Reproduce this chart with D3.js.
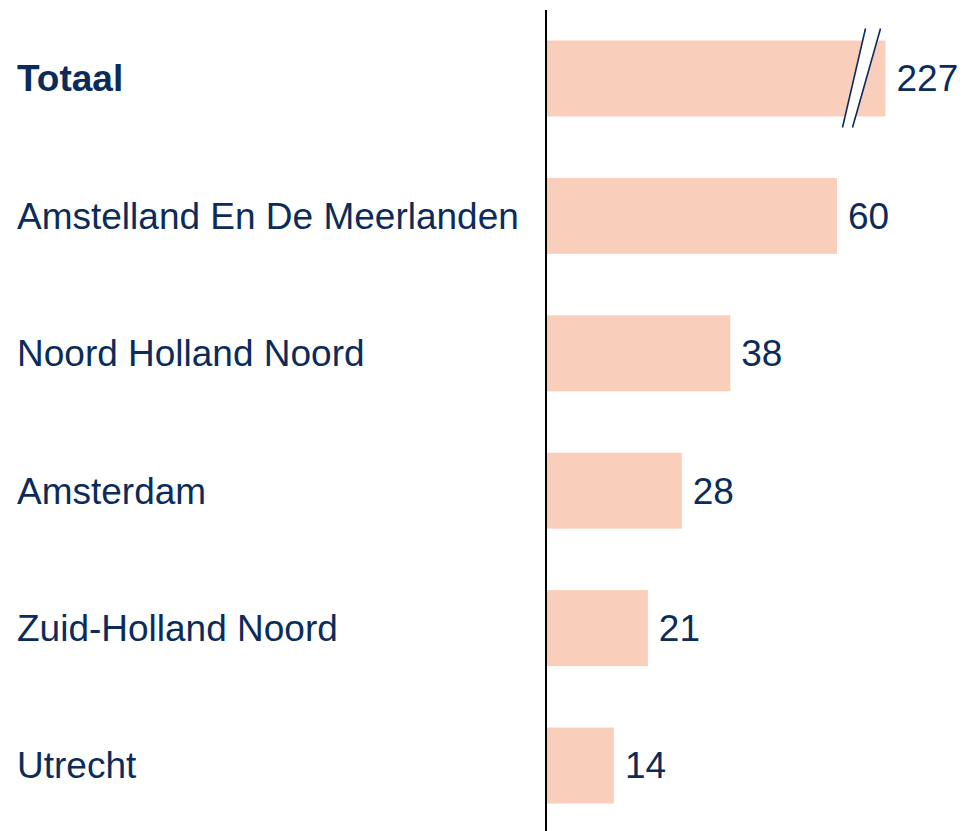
<!DOCTYPE html>
<html lang="nl">
<head>
<meta charset="UTF-8">
<title>Totaal per regio</title>
<script src="https://d3js.org/d3.v7.min.js"></script>
<style>
  body { margin: 0; background: #fff; }
  svg { display: block; }
  text { font-family: "Liberation Sans", Arial, sans-serif; fill: #0b2c5b; }
</style>
</head>
<body>
<svg width="963" height="831"></svg>
<script>
const categories = ['Totaal', 'Amstelland En De Meerlanden', 'Noord Holland Noord', 'Amsterdam', 'Zuid-Holland Noord', 'Utrecht'];
const values = [227, 60, 38, 28, 21, 14];
const breakAt = 70; // bars above this are cut off with a break mark

const data = categories.map((c, i) => ({ category: c, value: values[i] }));

const svg = d3.select('svg');
const width = +svg.attr('width');
const height = +svg.attr('height');
const axisX = 546;

const x = d3.scaleLinear().domain([0, 60]).range([axisX, 837]);
const y = d3.scaleBand().domain(categories).range([9.75, 834.25])
  .paddingInner(0.447).paddingOuter(0.2235);

// bars
svg.selectAll('rect.bar')
  .data(data)
  .enter()
  .append('rect')
  .attr('class', 'bar')
  .attr('x', x(0))
  .attr('y', d => y(d.category))
  .attr('width', d => x(Math.min(d.value, breakAt)) - x(0))
  .attr('height', y.bandwidth())
  .attr('fill', '#f9cfbc');

// break mark on the clipped bar
const broken = data.filter(d => d.value > breakAt);
broken.forEach(d => {
  const xe = x(breakAt);
  const top = y(d.category) - 12;
  const bot = y(d.category) + y.bandwidth() + 11;
  const lines = [[xe - 20, xe - 43], [xe - 5, xe - 33]];
  svg.append('polygon')
    .attr('points', [[lines[0][0], top], [lines[1][0], top], [lines[1][1], bot], [lines[0][1], bot]].join(' '))
    .attr('fill', '#fff');
  lines.forEach(l => {
    svg.append('line')
      .attr('x1', l[0]).attr('y1', top)
      .attr('x2', l[1]).attr('y2', bot)
      .attr('stroke', '#0b2c5b')
      .attr('stroke-width', 1.6);
  });
});

// value labels
svg.selectAll('text.value')
  .data(data)
  .enter()
  .append('text')
  .attr('class', 'value')
  .attr('x', d => x(Math.min(d.value, breakAt)) + 11)
  .attr('y', d => y(d.category) + y.bandwidth() / 2)
  .attr('dy', '0.35em')
  .style('font-size', '37px')
  .text(d => d.value);

// category labels
svg.selectAll('text.cat')
  .data(data)
  .enter()
  .append('text')
  .attr('class', 'cat')
  .attr('x', 17)
  .attr('y', d => y(d.category) + y.bandwidth() / 2)
  .attr('dy', '0.35em')
  .style('font-size', '37px')
  .style('font-weight', (d, i) => i === 0 ? 'bold' : 'normal')
  .text(d => d.category);

// vertical axis line
svg.append('line')
  .attr('x1', axisX).attr('x2', axisX)
  .attr('y1', 10).attr('y2', height)
  .attr('stroke', '#000')
  .attr('stroke-width', 2);
</script>
</body>
</html>
